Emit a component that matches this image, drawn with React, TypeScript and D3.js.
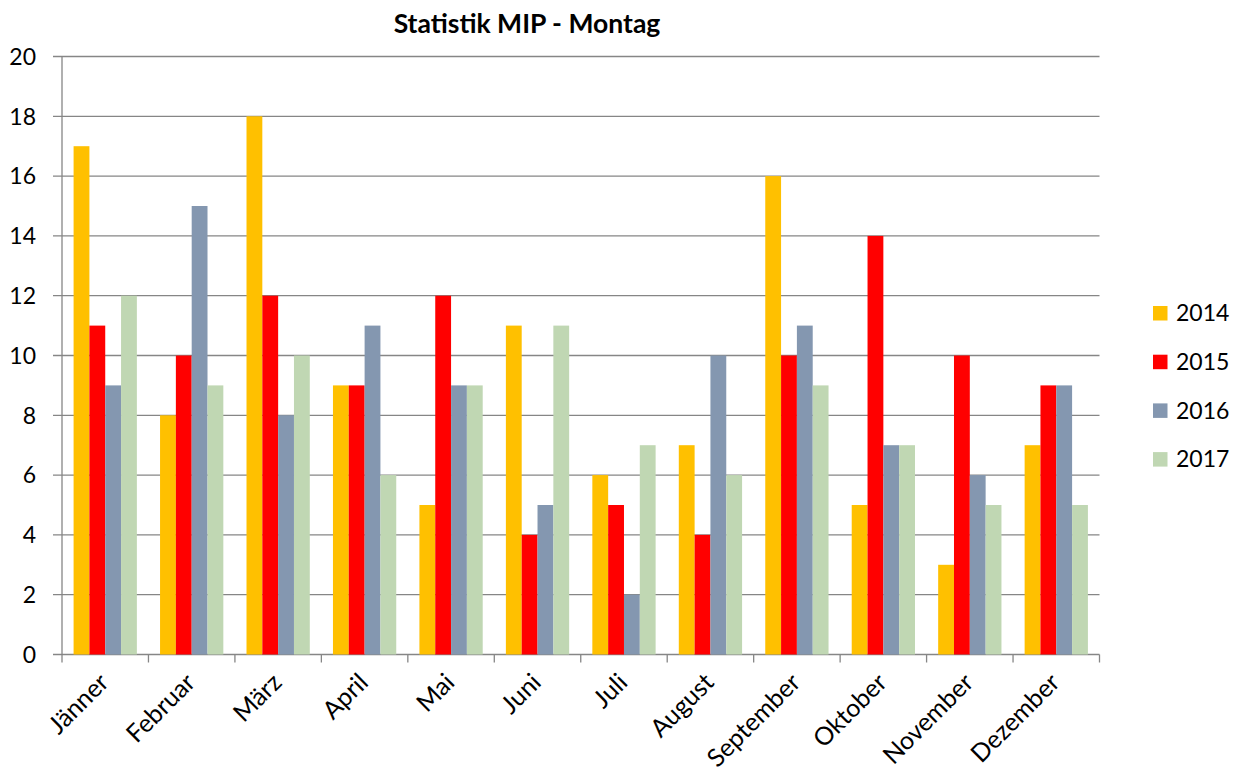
import React from "react";
import * as d3 from "d3";

const months = ["Jänner","Februar","März","April","Mai","Juni","Juli","August","September","Oktober","November","Dezember"];
const seriesNames = ["2014","2015","2016","2017"];
const v2014 = [17,8,18,9,5,11,6,7,16,5,3,7];
const v2015 = [11,10,12,9,12,4,5,4,10,14,10,9];
const v2016 = [9,15,8,11,9,5,2,10,11,7,6,9];
const v2017 = [12,9,10,6,9,11,7,6,9,7,5,5];
const yTicks = [0,2,4,6,8,10,12,14,16,18,20];
const colors = ["#FFC000","#FF0000","#8497B0","#C0D7B3"];

export default function App() {
  const W = 1242, H = 774;
  const left = 62, right = 1099.5, top = 56.5, bottom = 654.5;
  const font = "Lato, 'Open Sans', sans-serif";
  const series = [v2014, v2015, v2016, v2017];
  const x = d3.scaleBand<string>().domain(months).range([left, right]).padding(0);
  const bw = x.bandwidth();
  const inner = d3.scaleBand<string>().domain(seriesNames).range([bw * 0.134, bw * 0.866]).padding(0);
  const y = d3.scaleLinear().domain([0, 20]).range([bottom, top]);

  return (
    <svg width={W} height={H} style={{ position: "absolute", left: 0, top: 0, background: "#fff" }} fontFamily={font}>
      <rect width={W} height={H} fill="#fff" />
      <text x={527} y={33} textAnchor="middle" fontWeight="bold" fontSize={26.5}>Statistik MIP - Montag</text>
      {yTicks.map(t => (
        <g key={t}>
          <line x1={left - 9} x2={right} y1={y(t)} y2={y(t)} stroke="#868686" strokeWidth={1.3} />
          <text x={36} y={y(t)} dy="0.36em" textAnchor="end" fontSize={23}>{t}</text>
        </g>
      ))}
      <line x1={left} x2={left} y1={top} y2={bottom} stroke="#868686" strokeWidth={1.3} />
      {months.map((m, i) => (
        <line key={m} x1={left + i * bw} x2={left + i * bw} y1={bottom} y2={bottom + 8} stroke="#868686" strokeWidth={1.3} />
      ))}
      <line x1={right} x2={right} y1={bottom} y2={bottom + 8} stroke="#868686" strokeWidth={1.3} />
      {series.map((vals, s) =>
        vals.map((v, i) => (
          <rect key={s + "-" + i}
            x={(x(months[i]) as number) + (inner(seriesNames[s]) as number)}
            width={inner.bandwidth()}
            y={y(v)} height={y(0) - y(v)} fill={colors[s]} />
        ))
      )}
      {months.map(m => {
        const cx = (x(m) as number) + bw / 2 + 5;
        const cy = 684;
        return (
          <text key={m} transform={`translate(${cx},${cy}) rotate(-45)`} textAnchor="end" fontSize={25}>{m}</text>
        );
      })}
      {seriesNames.map((n, i) => {
        const cy = 313 + i * 48.7;
        return (
          <g key={n}>
            <rect x={1153} y={cy - 7} width={14.5} height={14.5} fill={colors[i]} />
            <text x={1176} y={cy} dy="0.36em" fontSize={23}>{n}</text>
          </g>
        );
      })}
    </svg>
  );
}
